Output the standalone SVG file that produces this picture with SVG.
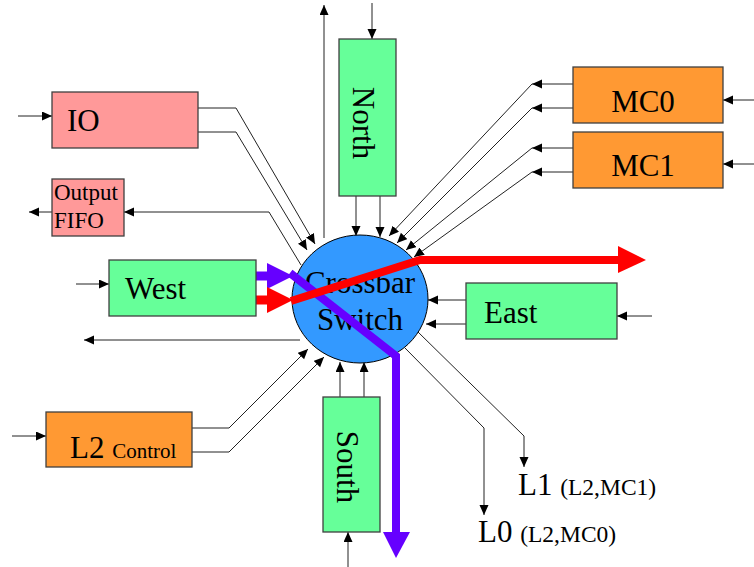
<svg xmlns="http://www.w3.org/2000/svg" width="754" height="567" viewBox="0 0 754 567">
  <style>
    .box { stroke: #404040; stroke-width: 1.3; }
    .green { fill: #66FF99; }
    .pink { fill: #FF9999; }
    .orange { fill: #FF9933; }
    .t { font-family: "Liberation Serif", "Times New Roman", serif; fill: #000; }
    .big { font-size: 31px; }
    .mid { font-size: 23px; }
    .ln { fill: none; stroke: #222; stroke-width: 1; }
    .arr { marker-end: url(#ah); }
  </style>
  <defs>
    <marker id="ah" markerUnits="userSpaceOnUse" markerWidth="11" markerHeight="10" refX="10" refY="4.5" orient="auto">
      <path d="M0,0 L10,4.5 L0,9 z" fill="#000"/>
    </marker>
  </defs>
  <rect width="754" height="567" fill="#fff"/>

  <g id="connectors">
    <!-- inputs from outside -->
    <line class="ln arr" x1="18" y1="116" x2="52" y2="116"/>
    <line class="ln arr" x1="76" y1="284" x2="109" y2="284"/>
    <line class="ln arr" x1="12" y1="436" x2="46" y2="436"/>
    <line class="ln arr" x1="372" y1="3" x2="372" y2="39"/>
    <line class="ln arr" x1="348" y1="567" x2="348" y2="532"/>
    <line class="ln arr" x1="652" y1="316" x2="617" y2="316"/>
    <line class="ln arr" x1="754" y1="100" x2="723" y2="100"/>
    <line class="ln arr" x1="754" y1="164" x2="723" y2="164"/>
    <!-- IO to crossbar -->
    <polyline class="ln arr" points="198,108 236,108 315,244"/>
    <polyline class="ln arr" points="198,132 236,132 307,250"/>
    <!-- crossbar to Output FIFO -->
    <polyline class="ln arr" points="301,265 269,212 124,212"/>
    <line class="ln arr" x1="52" y1="212" x2="29" y2="212"/>
    <!-- crossbar up -->
    <line class="ln arr" x1="324" y1="238" x2="324" y2="5"/>
    <!-- North to crossbar -->
    <line class="ln arr" x1="356" y1="196" x2="356" y2="236"/>
    <line class="ln arr" x1="380" y1="196" x2="380" y2="237"/>
    <!-- MC to crossbar -->
    <line class="ln arr" x1="573" y1="84" x2="532" y2="84"/>
    <line class="ln arr" x1="573" y1="108" x2="532" y2="108"/>
    <line class="ln arr" x1="573" y1="148" x2="532" y2="148"/>
    <line class="ln arr" x1="573" y1="172" x2="532" y2="172"/>
    <line class="ln arr" x1="532" y1="84" x2="389" y2="236"/>
    <line class="ln arr" x1="532" y1="108" x2="397" y2="243"/>
    <line class="ln arr" x1="532" y1="148" x2="406" y2="250"/>
    <line class="ln arr" x1="532" y1="172" x2="414" y2="257"/>
    <!-- East to crossbar -->
    <line class="ln arr" x1="466" y1="300" x2="428" y2="300"/>
    <line class="ln arr" x1="466" y1="324" x2="426" y2="324"/>
    <!-- crossbar to west (out) -->
    <line class="ln arr" x1="300" y1="340" x2="84" y2="340"/>
    <!-- L2 control to crossbar -->
    <polyline class="ln arr" points="192,428 229,428 308,349"/>
    <polyline class="ln arr" points="192,452 229,452 324,357"/>
    <!-- South to crossbar -->
    <line class="ln arr" x1="340" y1="397" x2="340" y2="362"/>
    <line class="ln arr" x1="364" y1="397" x2="364" y2="362"/>
    <!-- crossbar to L1 / L0 -->
    <polyline class="ln arr" points="418,332 524,436 524,467"/>
    <polyline class="ln arr" points="405,348 484,428 484,515"/>
  </g>

  <g id="crossbar">
    <ellipse cx="360" cy="299" rx="68" ry="64" fill="#3399FF" stroke="#000" stroke-width="1"/>
    <text class="t big" x="360" y="293" text-anchor="middle">Crossbar</text>
    <text class="t big" x="360" y="330" text-anchor="middle">Switch</text>
  </g>

  <g id="paths">
    <!-- purple route: West to South -->
    <line x1="256" y1="276" x2="268" y2="276" stroke="#6600FF" stroke-width="9"/>
    <polygon points="267,263 293,276 267,289" fill="#6600FF"/>
    <polyline points="290,273 396,356 396,533" fill="none" stroke="#6600FF" stroke-width="8" stroke-linejoin="miter"/>
    <polygon points="383,532 410,532 396,558" fill="#6600FF"/>
    <!-- red route: West to East -->
    <line x1="256" y1="300" x2="268" y2="300" stroke="#FF0000" stroke-width="9"/>
    <polygon points="267,287 293,300 267,313" fill="#FF0000"/>
    <polyline points="291,301 420,260 619,260" fill="none" stroke="#FF0000" stroke-width="8" stroke-linejoin="miter"/>
    <polygon points="618,246 646,260 618,273" fill="#FF0000"/>
  </g>

  <g id="io">
    <rect class="box pink" x="52" y="92" width="146" height="56"/>
    <text class="t big" x="67" y="131">IO</text>
  </g>
  <g id="output-fifo">
    <rect class="box pink" x="52" y="179" width="72" height="57"/>
    <text class="t mid" x="54" y="200">Output</text>
    <text class="t mid" x="54" y="228">FIFO</text>
  </g>
  <g id="north">
    <rect class="box green" x="339" y="39" width="57" height="157"/>
    <text class="t big" transform="translate(353,123) rotate(90)" text-anchor="middle">North</text>
  </g>
  <g id="mc0">
    <rect class="box orange" x="573" y="67" width="150" height="56"/>
    <text class="t big" x="643" y="112" text-anchor="middle">MC0</text>
  </g>
  <g id="mc1">
    <rect class="box orange" x="573" y="132" width="150" height="56"/>
    <text class="t big" x="643" y="176" text-anchor="middle">MC1</text>
  </g>
  <g id="west">
    <rect class="box green" x="109" y="260" width="147" height="56"/>
    <text class="t big" x="125" y="299">West</text>
  </g>
  <g id="east">
    <rect class="box green" x="466" y="283" width="151" height="56"/>
    <text class="t big" x="484" y="323">East</text>
  </g>
  <g id="l2-control">
    <rect class="box orange" x="46" y="412" width="146" height="55"/>
    <text class="t" x="70" y="458"><tspan font-size="31">L2 </tspan><tspan font-size="21">Control</tspan></text>
  </g>
  <g id="south">
    <rect class="box green" x="323" y="397" width="57" height="135"/>
    <text class="t big" transform="translate(337,467) rotate(90)" text-anchor="middle">South</text>
  </g>
  <g id="l1">
    <text class="t" x="518" y="495"><tspan font-size="31">L1 </tspan><tspan font-size="23.5">(L2,MC1)</tspan></text>
  </g>
  <g id="l0">
    <text class="t" x="478" y="542"><tspan font-size="31">L0 </tspan><tspan font-size="23.5">(L2,MC0)</tspan></text>
  </g>
</svg>
